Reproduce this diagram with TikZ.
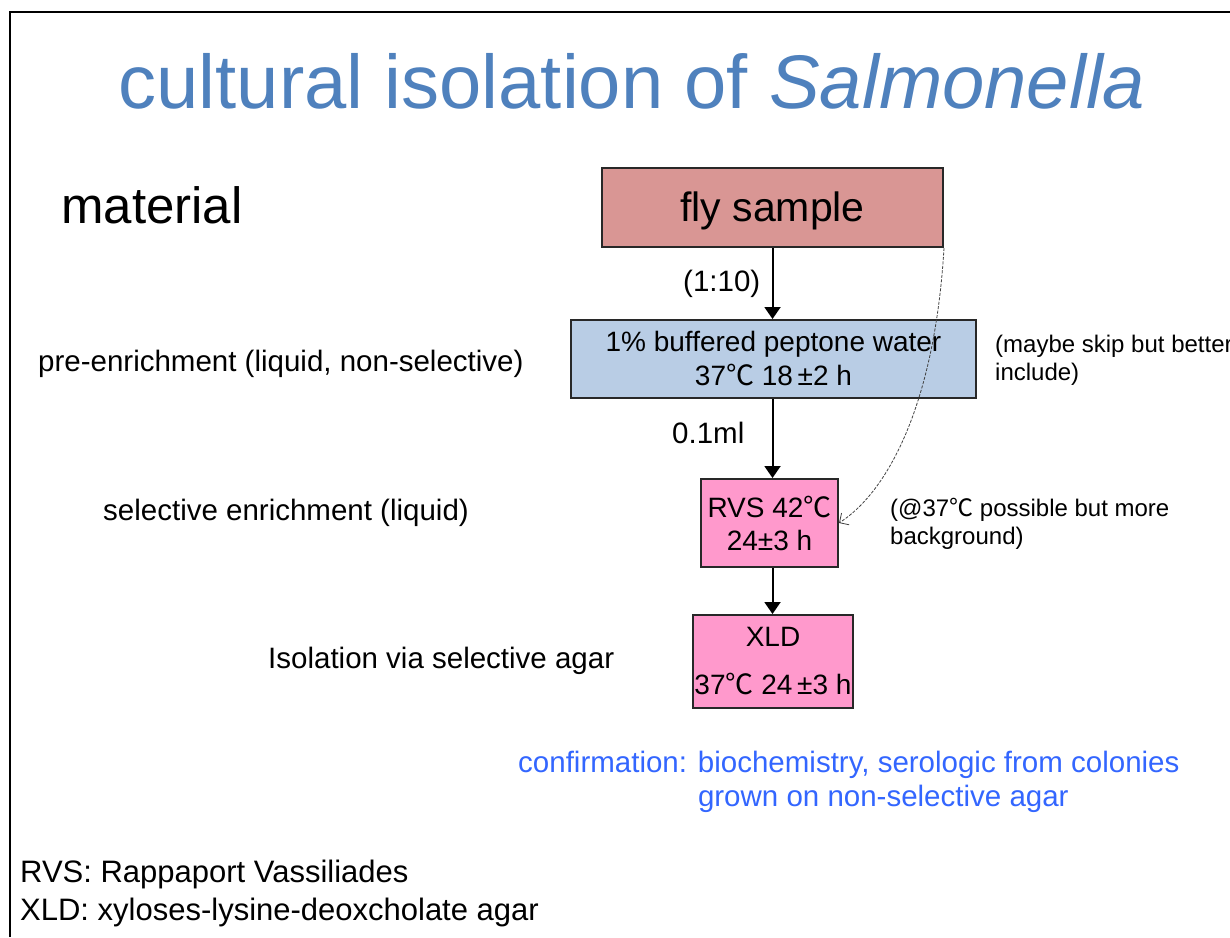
\documentclass[tikz,border=0pt]{standalone}
\usepackage{fontspec}
\setmainfont{Liberation Sans}
\newfontfamily\cjk{Noto Sans CJK SC}
\usetikzlibrary{arrows.meta}
\newcommand\degC{{\cjk ℃}}
\definecolor{titleblue}{RGB}{79,129,189}
\definecolor{confblue}{RGB}{51,102,255}
\definecolor{flyfill}{RGB}{217,150,148}
\definecolor{bpwfill}{RGB}{185,205,229}
\definecolor{pinkfill}{RGB}{255,153,204}
\definecolor{boxline}{RGB}{40,40,40}
\begin{document}
\begin{tikzpicture}[x=1pt,y=-1pt,
  fs/.style={font=\fontsize{#1}{#1}\selectfont},
  lbl/.style={inner sep=0pt,anchor=base west,font=\fontsize{29.5}{34}\selectfont},
  note/.style={inner sep=0pt,anchor=base west,align=left,font=\fontsize{24}{28}\selectfont},
  stepbox/.style={draw=boxline,line width=2pt,inner sep=0pt,align=center},
  flow/.style={line width=2pt,-{Triangle[length=12pt,width=16pt]}}
]
\useasboundingbox (0,0) rectangle (1230,937);
\draw[line width=2.5pt] (10,937) -- (10,12) -- (1230,12);

\node[inner sep=0pt,anchor=base,text=titleblue,fs=76] (title) at (632,108)
  {cultural isolation of \textit{Salmonella}};

\node[inner sep=0pt,anchor=base west,fs=51] (material) at (61,223) {material};

\node[stepbox,fill=flyfill,minimum width=341,minimum height=79,text height=31pt,text depth=3pt,fs=41] (fly) at (772.5,207.5) {fly sample};
\node[stepbox,fill=bpwfill,minimum width=405,minimum height=78,font=\fontsize{28}{34}\selectfont] (bpw) at (773.5,359)
  {1\% buffered peptone water\\37\degC{} 18\,±2 h};
\node[stepbox,fill=pinkfill,minimum width=137,minimum height=88,font=\fontsize{28}{33}\selectfont] (rvs) at (769.5,523)
  {RVS 42\degC\\24±3 h};
\node[stepbox,fill=pinkfill,minimum width=160,minimum height=93,font=\fontsize{28}{48}\selectfont] (xld) at (773,661.5)
  {XLD\\37\degC{} 24\,±3 h};

\draw[flow] (fly.south) -- (fly.south |- bpw.north);
\draw[flow] (fly.south |- bpw.south) -- (fly.south |- rvs.north);
\draw[flow] (fly.south |- rvs.south) -- (fly.south |- xld.north);
\draw[line width=0.8pt,dash pattern=on 3pt off 1.5pt,color=black!75,
  -{Straight Barb[length=7pt,width=14pt,line width=0.8pt]}]
  (fly.south east) .. controls (935,400) and (890,490) .. (rvs.east);

\node[lbl] (ratio) at (683,291) {(1:10)};
\node[lbl] (vol) at (672,443) {0.1ml};

\node[lbl] (pre) at (38,371) {pre-enrichment (liquid, non-selective)};
\node[lbl] (sel) at (103,520) {selective enrichment (liquid)};
\node[lbl] (iso) at (268,668) {Isolation via selective agar};

\node[note] (skip) at (995,380) {(maybe skip but better\\include)};
\node[note] (bg) at (890,544) {(@37\degC{} possible but more\\background)};

\node[inner sep=0pt,anchor=base west,align=left,text=confblue,font=\fontsize{29.5}{34}\selectfont] (conf) at (518,806)
  {confirmation: biochemistry, serologic from colonies\\\phantom{confirmation: }grown on non-selective agar};

\node[inner sep=0pt,anchor=base west,align=left,font=\fontsize{31}{38}\selectfont] (abbr) at (20,920)
  {RVS: Rappaport Vassiliades\\XLD: xyloses-lysine-deoxcholate agar};
\end{tikzpicture}
\end{document}
